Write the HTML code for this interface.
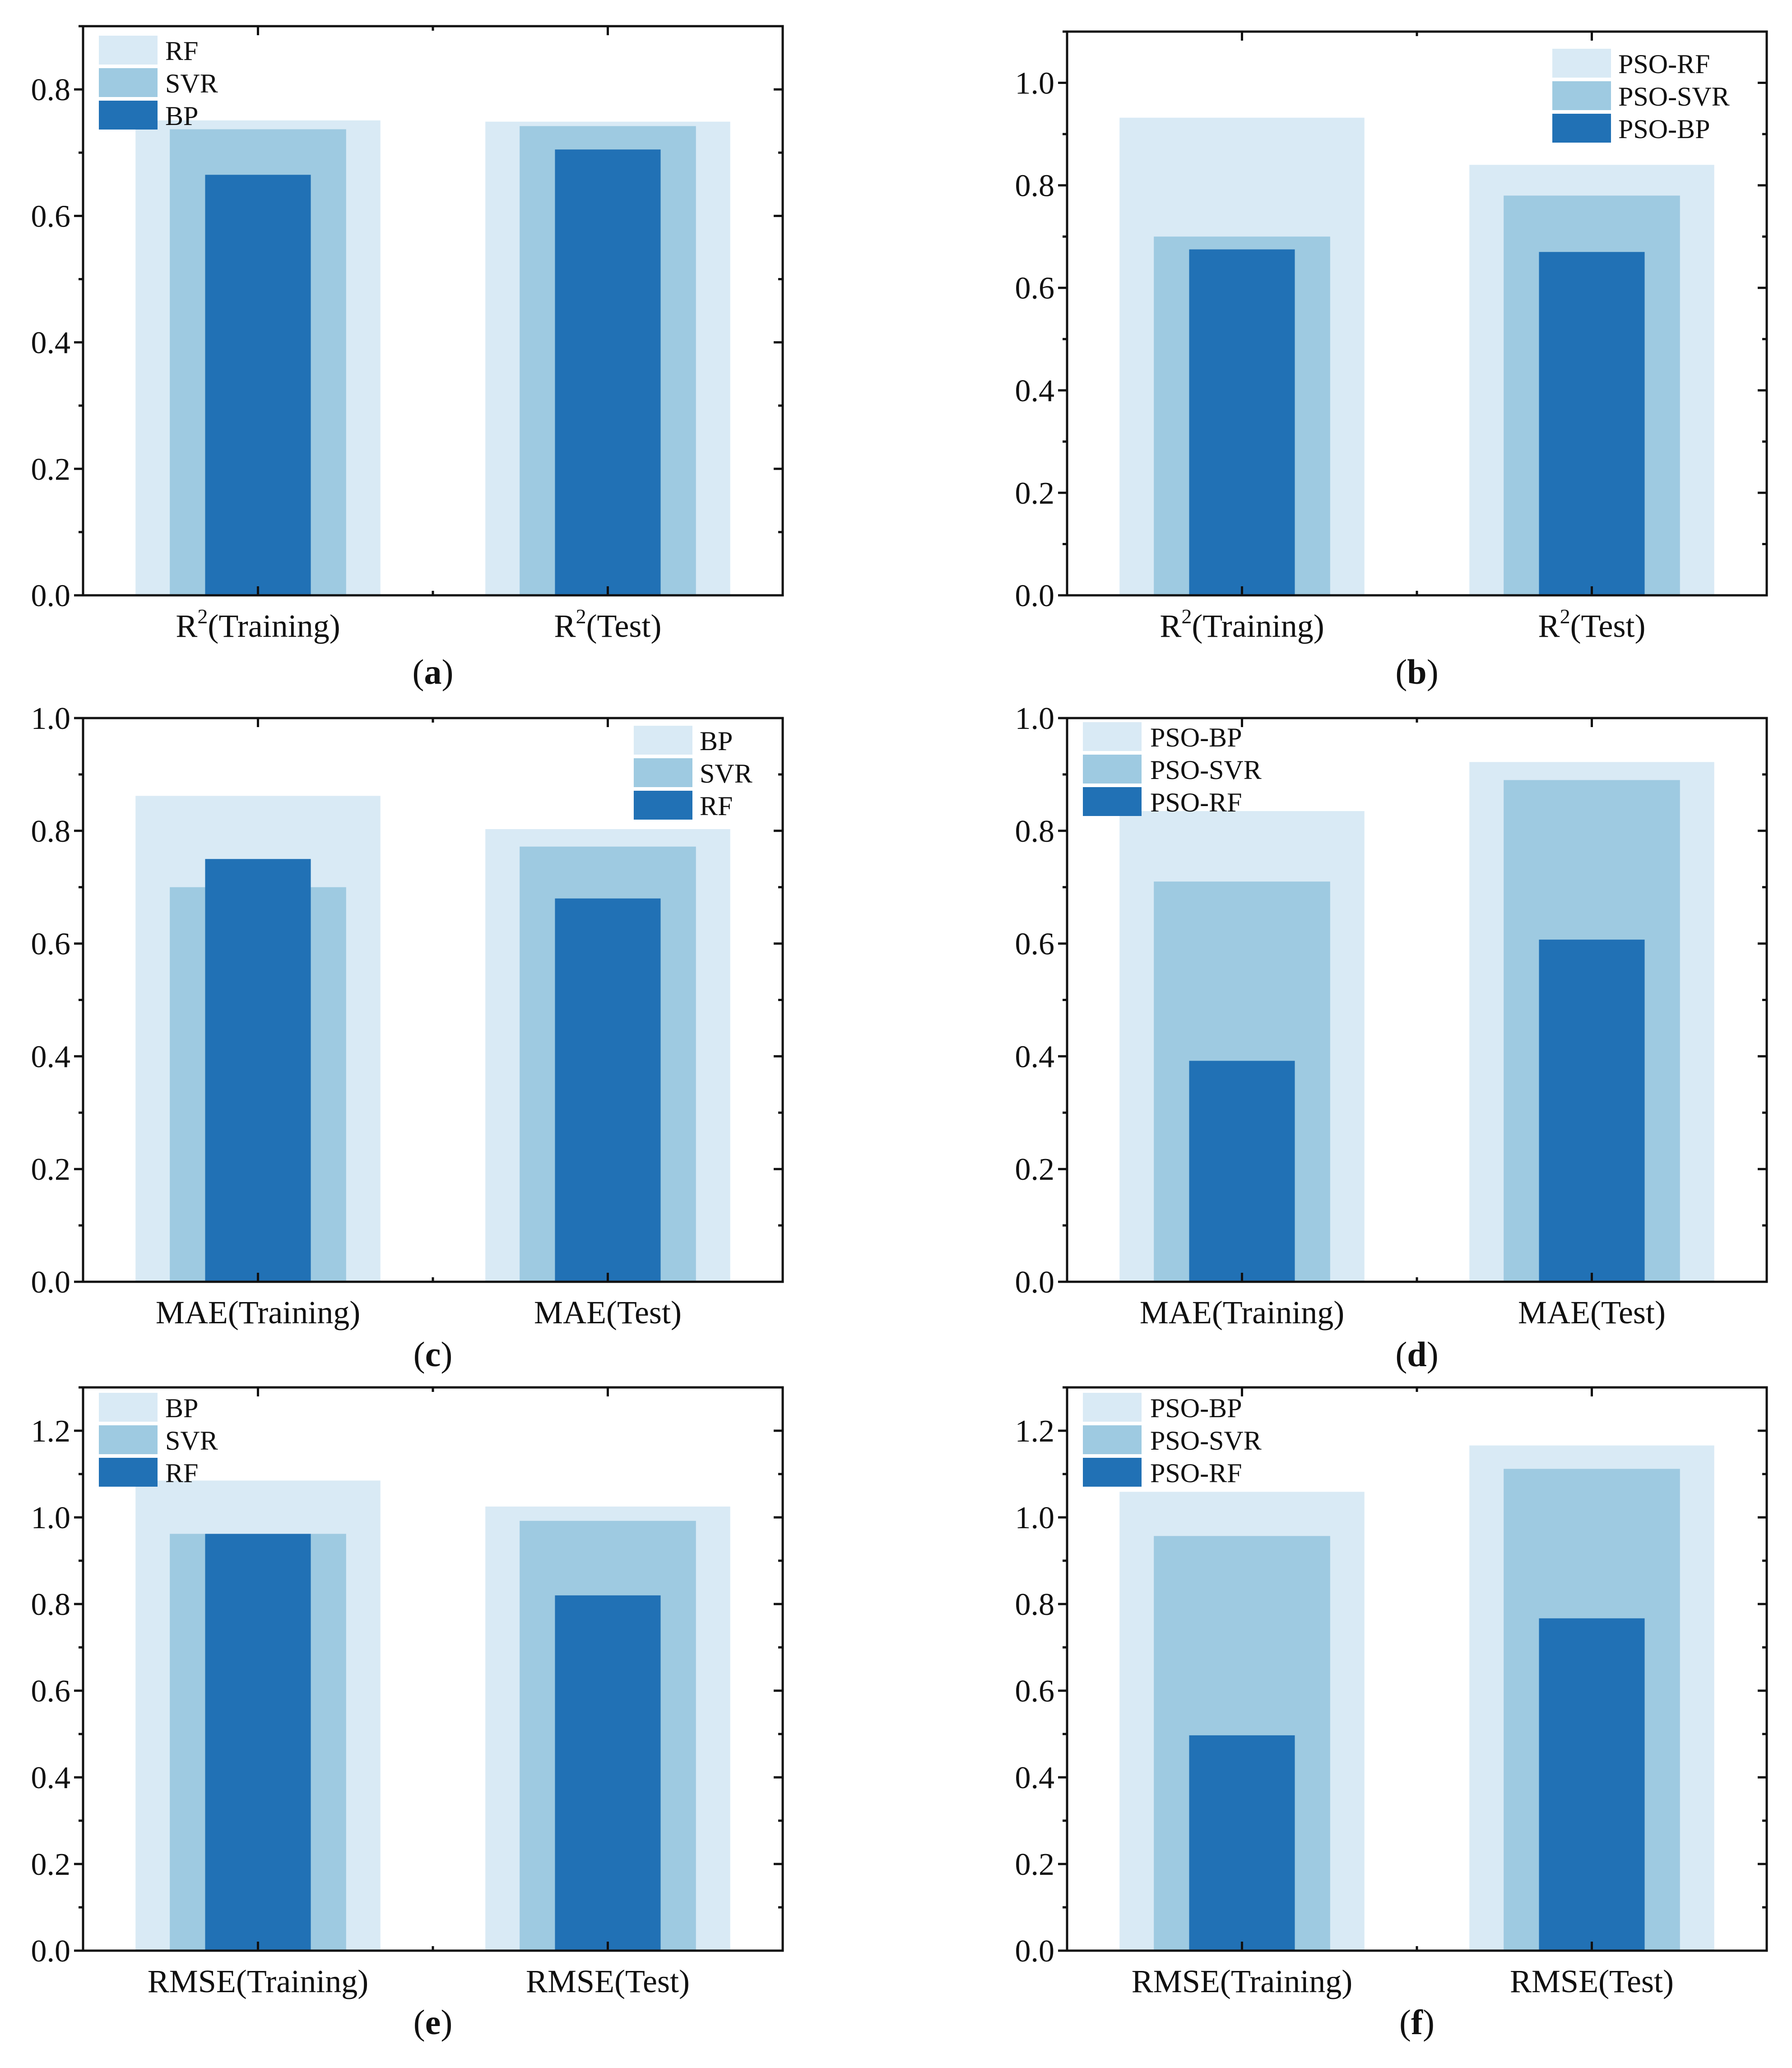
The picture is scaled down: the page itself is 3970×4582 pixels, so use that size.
<!DOCTYPE html>
<html><head><meta charset="utf-8"><style>
html,body{margin:0;padding:0;background:#fff}
svg text{font-family:"Liberation Serif",serif;fill:#111}
</style></head><body>
<svg id="fig" xmlns="http://www.w3.org/2000/svg" width="3970" height="4577" viewBox="0 0 3970 4577"></svg>
<script>
const categoriesA = ["R2(Training)","R2(Test)"];
const seriesNamesA = ["RF","SVR","BP"];
const valuesA_wide = [0.751,0.749];
const valuesA_mid = [0.737,0.742];
const valuesA_narrow = [0.665,0.705];

const categoriesB = ["R2(Training)","R2(Test)"];
const seriesNamesB = ["PSO-RF","PSO-SVR","PSO-BP"];
const valuesB_wide = [0.932,0.840];
const valuesB_mid = [0.700,0.780];
const valuesB_narrow = [0.675,0.670];

const categoriesC = ["MAE(Training)","MAE(Test)"];
const seriesNamesC = ["BP","SVR","RF"];
const valuesC_wide = [0.862,0.803];
const valuesC_mid = [0.700,0.772];
const valuesC_narrow = [0.750,0.680];

const categoriesD = ["MAE(Training)","MAE(Test)"];
const seriesNamesD = ["PSO-BP","PSO-SVR","PSO-RF"];
const valuesD_wide = [0.835,0.922];
const valuesD_mid = [0.710,0.890];
const valuesD_narrow = [0.392,0.607];

const categoriesE = ["RMSE(Training)","RMSE(Test)"];
const seriesNamesE = ["BP","SVR","RF"];
const valuesE_wide = [1.085,1.025];
const valuesE_mid = [0.962,0.992];
const valuesE_narrow = [0.962,0.820];

const categoriesF = ["RMSE(Training)","RMSE(Test)"];
const seriesNamesF = ["PSO-BP","PSO-SVR","PSO-RF"];
const valuesF_wide = [1.059,1.166];
const valuesF_mid = [0.957,1.112];
const valuesF_narrow = [0.497,0.767];

const yTicksA = ["0.0","0.2","0.4","0.6","0.8"];
const yTicksB = ["0.0","0.2","0.4","0.6","0.8","1.0"];
const yTicksC = ["0.0","0.2","0.4","0.6","0.8","1.0"];
const yTicksE = ["0.0","0.2","0.4","0.6","0.8","1.0","1.2"];

const NS="http://www.w3.org/2000/svg";
const svg=document.getElementById('fig');
const colors=["#d9eaf5","#9ecae1","#2171b5"];
function mk(tag,attrs,parent){const e=document.createElementNS(NS,tag);for(const k in attrs)e.setAttribute(k,attrs[k]);(parent||svg).appendChild(e);return e;}

const panels=[
 {id:"a",x0:184,x1:1734,y0:58,y1:1319,ymax:0.9,ticks:yTicksA,cats:categoriesA,names:seriesNamesA,vals:[valuesA_wide,valuesA_mid,valuesA_narrow],leg:{x:219,y:79,tx:366},lab:1515},
 {id:"b",x0:2364,x1:3914,y0:70,y1:1319,ymax:1.1,ticks:yTicksB,cats:categoriesB,names:seriesNamesB,vals:[valuesB_wide,valuesB_mid,valuesB_narrow],leg:{x:3439,y:108,tx:3585},lab:1515},
 {id:"c",x0:184,x1:1734,y0:1591,y1:2840,ymax:1.0,ticks:yTicksC,cats:categoriesC,names:seriesNamesC,vals:[valuesC_wide,valuesC_mid,valuesC_narrow],leg:{x:1404,y:1608,tx:1550},lab:3027},
 {id:"d",x0:2364,x1:3914,y0:1591,y1:2840,ymax:1.0,ticks:yTicksC,cats:categoriesD,names:seriesNamesD,vals:[valuesD_wide,valuesD_mid,valuesD_narrow],leg:{x:2399,y:1600,tx:2548},lab:3027},
 {id:"e",x0:184,x1:1734,y0:3074,y1:4322,ymax:1.3,ticks:yTicksE,cats:categoriesE,names:seriesNamesE,vals:[valuesE_wide,valuesE_mid,valuesE_narrow],leg:{x:219,y:3086,tx:366},lab:4507},
 {id:"f",x0:2364,x1:3914,y0:3074,y1:4322,ymax:1.3,ticks:yTicksE,cats:categoriesF,names:seriesNamesF,vals:[valuesF_wide,valuesF_mid,valuesF_narrow],leg:{x:2399,y:3086,tx:2548},lab:4507}
];
const widths=[0.35,0.252,0.151];

panels.forEach(p=>{
 const g=mk('g',{});
 
 
 const W=p.x1-p.x0;
 const yS=v=>p.y1-(v/p.ymax)*(p.y1-p.y0);
 const xS=i=>p.x0+W*(0.25+0.5*i);
 p.vals.forEach((ser,si)=>{
  ser.forEach((v,ci)=>{
   const bw=W*widths[si];
   const r=mk('rect',{x:xS(ci)-bw/2,y:yS(v),width:bw,height:p.y1-yS(v),fill:colors[si]},g);
   
   
  });
 });
 const fr=mk('rect',{x:p.x0,y:p.y0,width:W,height:p.y1-p.y0,fill:"none",stroke:"#111","stroke-width":5},g);
 
 
 for(let v=0;v<=p.ymax+1e-9;v+=0.1){
  const y=yS(v);const major=Math.round(v*10)%2===0;const L=major?20:10;
  mk('line',{x1:p.x0-L,x2:p.x0,y1:y,y2:y,stroke:"#111","stroke-width":5},g);
  mk('line',{x1:p.x1-L,x2:p.x1,y1:y,y2:y,stroke:"#111","stroke-width":5},g);
 }
 p.ticks.forEach(t=>{
  const tx=mk('text',{x:p.x0-28,y:yS(parseFloat(t))+24,"font-size":70,"text-anchor":"end"},g);
  tx.textContent=t;
  
  
 });
 [0,1].forEach(i=>{
  const x=xS(i);
  mk('line',{x1:x,x2:x,y1:p.y1,y2:p.y1-20,stroke:"#111","stroke-width":5},g);
  mk('line',{x1:x,x2:x,y1:p.y0,y2:p.y0+20,stroke:"#111","stroke-width":5},g);
 });
 const xm=p.x0+W/2;
 mk('line',{x1:xm,x2:xm,y1:p.y1,y2:p.y1-10,stroke:"#111","stroke-width":5},g);
 mk('line',{x1:xm,x2:xm,y1:p.y0,y2:p.y0+10,stroke:"#111","stroke-width":5},g);
 p.cats.forEach((c,i)=>{
  const tx=mk('text',{x:xS(i),y:p.y1+92,"font-size":72,"text-anchor":"middle"},g);
  
  
  if(c.startsWith("R2")){
   tx.appendChild(document.createTextNode("R"));
   const sp=mk('tspan',{"font-size":46,dy:-30},tx);sp.textContent="2";
   const sp2=mk('tspan',{"font-size":72,dy:30},tx);sp2.textContent=c.slice(2);
  } else tx.textContent=c;
 });
 const pl=mk('text',{x:xm,y:p.lab,"font-size":78,"text-anchor":"middle"},g);
 
 
 pl.appendChild(document.createTextNode("("));
 const b=mk('tspan',{"font-weight":"bold"},pl);b.textContent=p.id;
 pl.appendChild(document.createTextNode(")"));
 p.names.forEach((n,i)=>{
  const y=p.leg.y+i*72;
  const sw=mk('rect',{x:p.leg.x,y:y,width:130,height:64,fill:colors[i]},g);
  
  
  const t=mk('text',{x:p.leg.tx,y:y+54,"font-size":60},g);
  t.textContent=n;
  
  
 });
});
</script>
</body></html>
